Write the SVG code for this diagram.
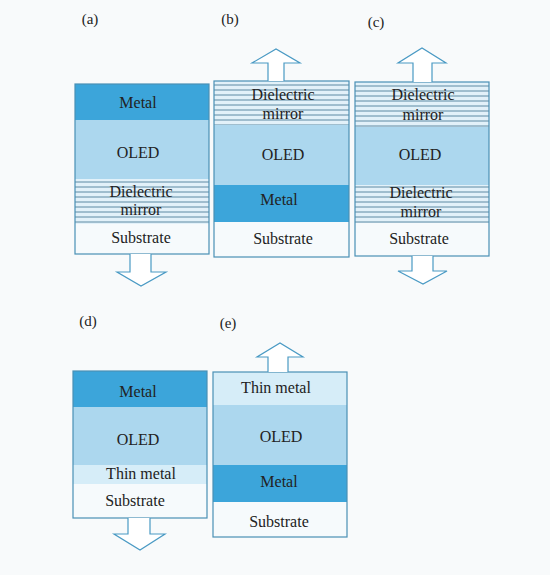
<svg xmlns="http://www.w3.org/2000/svg" width="550" height="575" viewBox="0 0 550 575" font-family="'Liberation Serif', 'DejaVu Serif', serif">
<defs>
<style>
text{font-family:'Liberation Serif','DejaVu Serif',serif;fill:#222;}
.t{font-size:16px;text-anchor:middle;}
.lab{font-size:15px;text-anchor:middle;}
.metal{fill:#3ca5da;}
.oled{fill:#acd7ee;}
.thin{fill:#d6edf8;}
.sub{fill:#f6fafc;}
.diel{fill:#e2f1f9;}
.ln{stroke:#4f7f98;stroke-width:0.9;fill:none;}
.box{fill:none;stroke:#4a90b5;stroke-width:1.2;}
.arr{fill:#ffffff;stroke:#4a9ac4;stroke-width:1.2;stroke-linejoin:miter;}
</style>
</defs>
<rect width="550" height="575" fill="#f8fafb"/>

<g id="panel-a">
<text class="lab" x="90" y="24">(a)</text>
<rect class="metal" x="75" y="84" width="134" height="36"/>
<rect class="oled" x="75" y="120" width="134" height="59"/>
<rect class="diel" x="75" y="179" width="134" height="45"/>
<path class="ln" d="M75,182H209M75,187H209M75,192H209M75,197H209M75,202H209M75,207H209M75,212H209M75,217H209M75,222H209"/>
<rect class="sub" x="75" y="224" width="134" height="30"/>
<rect class="box" x="75" y="84" width="134" height="170"/>
<text class="t" x="138" y="108">Metal</text>
<text class="t" x="138" y="158">OLED</text>
<text class="t" x="141" y="197">Dielectric</text>
<text class="t" x="141" y="215">mirror</text>
<text class="t" x="141" y="243">Substrate</text>
</g>

<g id="panel-b">
<text class="lab" x="230" y="24">(b)</text>
<rect class="diel" x="214" y="81" width="135" height="44"/>
<path class="ln" d="M214,85H349M214,90H349M214,95H349M214,100H349M214,105H349M214,110H349M214,115H349M214,120H349M214,125H349"/>
<rect class="oled" x="214" y="125" width="135" height="60"/>
<rect class="metal" x="214" y="185" width="135" height="37"/>
<rect class="sub" x="214" y="222" width="135" height="35"/>
<rect class="box" x="214" y="81" width="135" height="176"/>
<text class="t" x="283" y="100">Dielectric</text>
<text class="t" x="283" y="119">mirror</text>
<text class="t" x="283" y="160">OLED</text>
<text class="t" x="279" y="205">Metal</text>
<text class="t" x="283" y="244">Substrate</text>
</g>

<g id="panel-c">
<text class="lab" x="376" y="27">(c)</text>
<rect class="diel" x="355" y="82" width="134" height="45"/>
<path class="ln" d="M355,86H489M355,91H489M355,96H489M355,101H489M355,106H489M355,111H489M355,116H489M355,121H489M355,126H489"/>
<rect class="oled" x="355" y="127" width="134" height="58"/>
<rect class="diel" x="355" y="185" width="134" height="38"/>
<path class="ln" d="M355,187H489M355,192H489M355,197H489M355,202H489M355,207H489M355,212H489M355,217H489M355,222H489"/>
<rect class="sub" x="355" y="223" width="134" height="33"/>
<rect class="box" x="355" y="82" width="134" height="174"/>
<text class="t" x="423" y="100">Dielectric</text>
<text class="t" x="423" y="120">mirror</text>
<text class="t" x="420" y="160">OLED</text>
<text class="t" x="421" y="198">Dielectric</text>
<text class="t" x="421" y="217">mirror</text>
<text class="t" x="419" y="244">Substrate</text>
</g>

<g id="panel-d">
<text class="lab" x="88" y="326">(d)</text>
<rect class="metal" x="73" y="371" width="134" height="36"/>
<rect class="oled" x="73" y="407" width="134" height="58"/>
<rect class="thin" x="73" y="465" width="134" height="19"/>
<rect class="sub" x="73" y="484" width="134" height="34"/>
<rect class="box" x="73" y="371" width="134" height="147"/>
<text class="t" x="138" y="397">Metal</text>
<text class="t" x="138" y="445">OLED</text>
<text class="t" x="141" y="479">Thin metal</text>
<text class="t" x="135" y="506">Substrate</text>
</g>

<g id="panel-e">
<text class="lab" x="228" y="328">(e)</text>
<rect class="thin" x="213" y="372" width="134" height="33"/>
<rect class="oled" x="213" y="405" width="134" height="60"/>
<rect class="metal" x="213" y="465" width="134" height="37"/>
<rect class="sub" x="213" y="502" width="134" height="35"/>
<rect class="box" x="213" y="372" width="134" height="165"/>
<text class="t" x="276" y="393">Thin metal</text>
<text class="t" x="281" y="442">OLED</text>
<text class="t" x="279" y="487">Metal</text>
<text class="t" x="279" y="527">Substrate</text>
</g>

<g id="connectors">
<path class="arr" d="M130,254V272H117L141,286L166,272H151V254"/>
<path class="arr" d="M268,81V63H252L276,49L300,63H284V81"/>
<path class="arr" d="M413,82V63H398L422,48L446,63H432V82"/>
<path class="arr" d="M412,256V271H398L423,284L447,271H433V256"/>
<path class="arr" d="M128,518V534H114L140,550L165,534H150V518"/>
<path class="arr" d="M268,372V357H257L280,343L303,357H288V372"/>
</g>
</svg>
